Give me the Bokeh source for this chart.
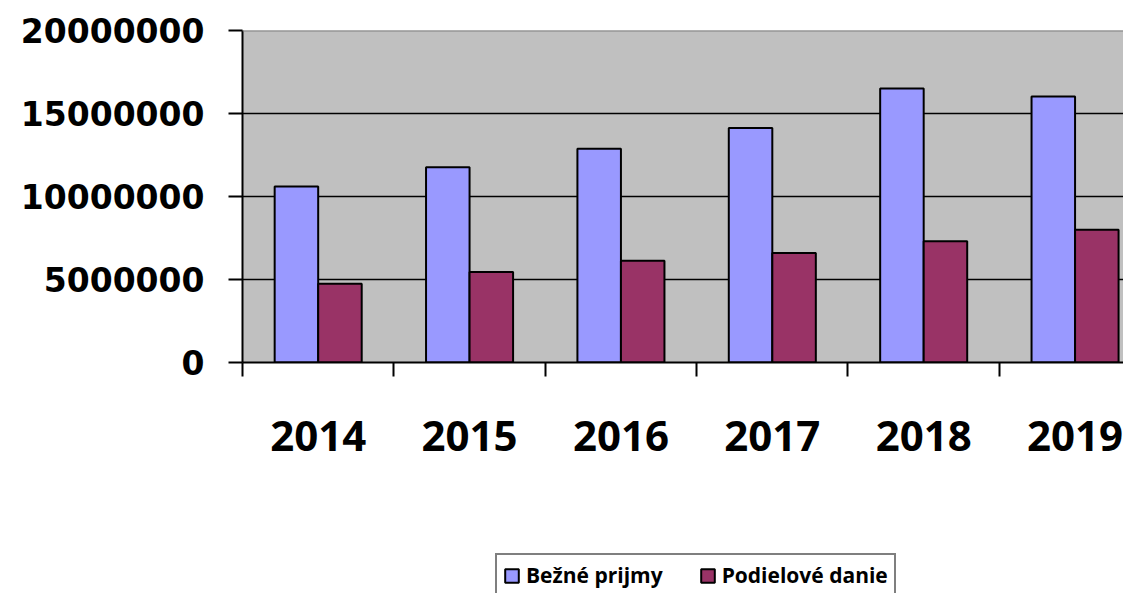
import numpy as np
from bokeh.plotting import figure
from bokeh.layouts import column
from bokeh.models import FixedTicker, Range1d, Legend, LegendItem, Span
from bokeh.embed import file_html
from bokeh.resources import INLINE

years = ["2014", "2015", "2016", "2017", "2018", "2019"]
bezne = [10600000, 11760000, 12870000, 14130000, 16510000, 16020000]
podielove = [4750000, 5450000, 6130000, 6590000, 7300000, 8000000]
series_names = ["Bežné prijmy", "Podielové danie"]
y_ticks = [0, 5000000, 10000000, 15000000, 20000000]
y_tick_labels = ["0", "5000000", "10000000", "15000000", "20000000"]

BLUE = "#9999FF"
MAROON = "#993366"
BG = "#C0C0C0"

n = len(years)
idx = np.arange(n)
bw = 0.2875
y_max = y_ticks[-1]

W = 1123
H1 = 552
H2 = 41
LEFT = 242

p = figure(width=W, height=H1, output_backend="svg", toolbar_location=None,
           x_range=Range1d(0, 5.82), y_range=Range1d(0, y_max),
           min_border_left=LEFT, min_border_top=30, min_border_bottom=H1 - 362,
           min_border_right=0)
p.background_fill_color = BG
p.border_fill_color = "white"
p.outline_line_color = None

r1 = p.vbar(x=idx + 0.5 - bw / 2, top=bezne, width=bw, bottom=0,
            fill_color=BLUE, line_color="black", line_width=2)
r2 = p.vbar(x=idx + 0.5 + bw / 2, top=podielove, width=bw, bottom=0,
            fill_color=MAROON, line_color="black", line_width=2)

# top border of plot area
p.add_layout(Span(location=y_max, dimension="width", line_color="#808080", line_width=2))

# grid
p.xgrid.visible = False
p.ygrid.ticker = FixedTicker(ticks=y_ticks[1:-1])
p.ygrid.grid_line_color = "black"
p.ygrid.grid_line_width = 1.5

# x axis
xa = p.xaxis[0]
xa.ticker = FixedTicker(ticks=list(idx + 0.5), minor_ticks=list(range(n + 1)))
xa.major_label_overrides = {float(i + 0.5): y for i, y in enumerate(years)}
xa.major_tick_out = 0
xa.major_tick_in = 0
xa.minor_tick_out = 14
xa.minor_tick_in = 0
xa.minor_tick_line_color = "black"
xa.minor_tick_line_width = 2
xa.axis_line_color = "black"
xa.axis_line_width = 2
xa.major_label_text_font = "Open Sans"
xa.major_label_text_font_style = "bold"
xa.major_label_text_font_size = "42px"
xa.major_label_text_color = "black"
xa.major_label_standoff = 44

# y axis
ya = p.yaxis[0]
ya.ticker = FixedTicker(ticks=y_ticks)
ya.major_label_overrides = {float(t): l for t, l in zip(y_ticks, y_tick_labels)}
ya.major_tick_out = 14
ya.major_tick_in = 0
ya.minor_tick_out = 0
ya.minor_tick_in = 0
ya.major_tick_line_width = 2
ya.major_tick_line_color = "black"
ya.axis_line_color = "black"
ya.axis_line_width = 2
ya.major_label_text_font = "DejaVu Sans"
ya.major_label_text_font_style = "bold"
ya.major_label_text_font_size = "33px"
ya.major_label_text_color = "black"
ya.major_label_standoff = 24

# legend strip (separate figure below the chart; its frame aligns with the chart's)
p2 = figure(width=W, height=H2, output_backend="svg", toolbar_location=None,
            x_range=Range1d(0, 1), y_range=Range1d(1, 2),
            x_axis_location=None, y_axis_location=None, min_border=0)
p2.grid.visible = False
p2.outline_line_color = None
p2.background_fill_color = "white"
p2.border_fill_color = "white"
# legend swatch renderers (kept outside the visible range of the strip)
l1 = p2.vbar(x=[0.5], top=[0], bottom=[0], width=bw, fill_color=BLUE, line_color="black", line_width=2)
l2 = p2.vbar(x=[0.5], top=[0], bottom=[0], width=bw, fill_color=MAROON, line_color="black", line_width=2)

legend = Legend(items=[LegendItem(label=series_names[0], renderers=[l1]),
                       LegendItem(label=series_names[1], renderers=[l2])],
                orientation="horizontal", location=(495 - LEFT, -4))
legend.label_text_font = "Open Sans"
legend.label_text_font_style = "bold"
legend.label_text_font_size = "21px"
legend.label_text_color = "black"
legend.glyph_width = 17
legend.glyph_height = 17
legend.label_standoff = 6
legend.spacing = 36
legend.padding = 6
legend.margin = 0
legend.border_line_color = "black"
legend.border_line_width = 2
legend.background_fill_color = "white"
legend.background_fill_alpha = 1
p2.add_layout(legend, "center")

layout = column(p, p2, spacing=0)
open("out.html", "w").write(file_html(layout, INLINE))
